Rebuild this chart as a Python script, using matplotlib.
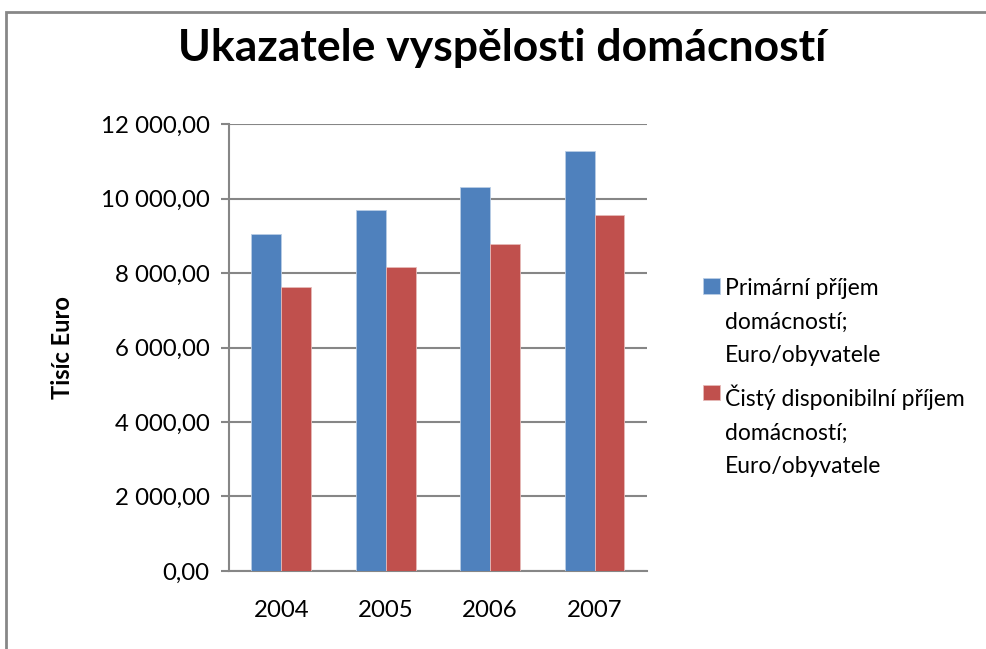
import matplotlib
matplotlib.use("Agg")
import matplotlib.pyplot as plt
from matplotlib.patches import Rectangle
from matplotlib.ticker import FuncFormatter
import numpy as np

years = ["2004", "2005", "2006", "2007"]
primarni = [9040, 9690, 10310, 11280]
cisty = [7630, 8170, 8770, 9560]
labels = ["Primární příjem\ndomácností;\nEuro/obyvatele",
          "Čistý disponibilní příjem\ndomácností;\nEuro/obyvatele"]

plt.rcParams["font.family"] = ["Lato", "DejaVu Sans"]

fig = plt.figure(figsize=(9.86, 6.49), dpi=100)
ax = fig.add_axes([0.2323, 0.1202, 0.4237, 0.6887])

x = np.arange(len(years))
w = 1 / 3.5
ax.bar(x - w / 2, primarni, w, color="#4F81BD", edgecolor="#B9CDE5", linewidth=0.6,
       label=labels[0], zorder=3)
ax.bar(x + w / 2, cisty, w, color="#C0504D", edgecolor="#E6B9B8", linewidth=0.6,
       label=labels[1], zorder=3)

ax.set_xlim(-0.5, 3.5)
ax.set_ylim(0, 12000)
ax.set_yticks(np.arange(0, 12001, 2000))
ax.yaxis.set_major_formatter(FuncFormatter(
    lambda v, p: f"{v:,.2f}".replace(",", " ").replace(".", ",")))
ax.set_xticks(x)
ax.set_xticklabels(years)
ax.grid(axis="y", color="#868686", linewidth=1.5, zorder=0)
for s in ["top", "right"]:
    ax.spines[s].set_visible(False)
ax.spines["left"].set_color("#868686")
ax.spines["bottom"].set_color("#868686")
ax.spines["left"].set_linewidth(1.5)
ax.spines["bottom"].set_linewidth(1.5)
ax.tick_params(axis="y", length=6, width=1.5, color="#868686", labelsize=17.3, pad=8)
ax.tick_params(axis="x", length=0, labelsize=17.3, pad=21)
ax.set_ylabel("Tisíc Euro", fontsize=17, fontweight="bold")
ax.yaxis.set_label_coords(-0.37, 0.5)

fig.suptitle("Ukazatele vyspělosti domácností", fontsize=32, fontweight="bold",
             x=0.509, y=0.957)

leg = fig.legend(loc="center left", bbox_to_anchor=(0.692, 0.418), frameon=False,
                 fontsize=16.5, handlelength=0.75, handleheight=0.65,
                 handletextpad=0.2, labelspacing=0.83)
for t in leg.get_texts():
    t.set_linespacing(1.72)
for col in leg._legend_handle_box.get_children():
    for item in col.get_children():
        item.align = "top"

fig.patches.append(Rectangle((6 / 986, -0.1), 1.2, 1 - 12 / 649 + 0.1,
                             transform=fig.transFigure, fill=False,
                             edgecolor="#878787", linewidth=2))

fig.savefig("out.png", dpi=100)
